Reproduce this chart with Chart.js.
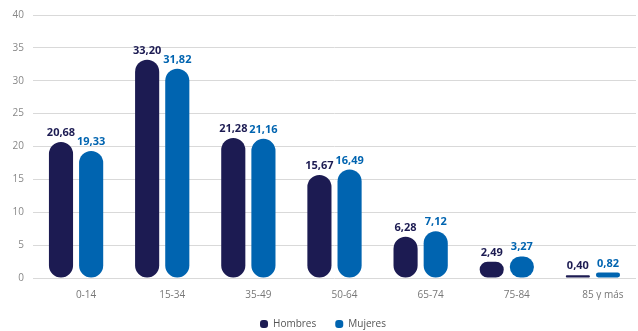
<!DOCTYPE html>
<html>
<head>
<meta charset="utf-8">
<script src="https://cdn.jsdelivr.net/npm/chart.js@4.4.0/dist/chart.umd.min.js"></script>
<style>
  html, body { margin: 0; padding: 0; background: #ffffff; }
  #wrap { width: 638px; height: 331px; }
</style>
</head>
<body>
<div id="wrap"><canvas id="chart" width="638" height="331"></canvas></div>
<script>
// Age groups and population share (%) by sex
const categories = ['0-14', '15-34', '35-49', '50-64', '65-74', '75-84', '85 y más'];
const hombres = [20.68, 33.20, 21.28, 15.67, 6.28, 2.49, 0.40];
const mujeres = [19.33, 31.82, 21.16, 16.49, 7.12, 3.27, 0.82];
const yTicks = [0, 5, 10, 15, 20, 25, 30, 35, 40];

const NAVY = '#1c1b52';
const BLUE = '#0064b0';
const FONT = '"Open Sans", "Noto Sans", sans-serif';

// Writes each bar's value above it, using a comma as decimal separator
const valueLabels = {
  id: 'valueLabels',
  afterDatasetsDraw(chart) {
    const ctx = chart.ctx;
    ctx.save();
    ctx.font = 'bold 11px ' + FONT;
    ctx.textAlign = 'center';
    ctx.textBaseline = 'alphabetic';
    chart.data.datasets.forEach((ds, i) => {
      const meta = chart.getDatasetMeta(i);
      ctx.fillStyle = ds.labelColor;
      meta.data.forEach((bar, j) => {
        const txt = ds.data[j].toFixed(2).replace('.', ',');
        ctx.fillText(txt, bar.x, bar.y - 6);
      });
    });
    ctx.restore();
  }
};

// Nudges the legend row a little to the right of the canvas centre
const legendShift = {
  id: 'legendShift',
  afterLayout(chart) {
    if (chart.legend) {
      chart.legend.left += 5;
      chart.legend.right += 5;
    }
  }
};

new Chart(document.getElementById('chart'), {
  type: 'bar',
  data: {
    labels: categories,
    datasets: [
      {
        label: 'Hombres',
        data: hombres,
        backgroundColor: NAVY,
        labelColor: NAVY,
        borderRadius: 12,
        borderSkipped: false,
        barPercentage: 0.8,
        categoryPercentage: 0.7
      },
      {
        label: 'Mujeres',
        data: mujeres,
        backgroundColor: BLUE,
        labelColor: BLUE,
        borderRadius: 12,
        borderSkipped: false,
        barPercentage: 0.8,
        categoryPercentage: 0.7
      }
    ]
  },
  options: {
    responsive: false,
    animation: false,
    layout: { padding: { top: 10, right: 2, bottom: -8, left: 0 } },
    plugins: {
      tooltip: { enabled: false },
      legend: {
        position: 'bottom',
        labels: {
          font: { family: FONT, size: 10 },
          color: '#555555',
          boxWidth: 8,
          boxHeight: 8,
          useBorderRadius: true,
          borderRadius: 3,
          padding: 19
        }
      }
    },
    scales: {
      x: {
        afterFit(scale) { scale.height = 22; },
        grid: { display: false, drawTicks: false },
        border: { display: false },
        ticks: {
          font: { family: FONT, size: 10 },
          color: '#777777',
          labelOffset: 10,
          padding: 11,
          maxRotation: 0
        }
      },
      y: {
        min: 0,
        max: 40,
        afterBuildTicks(scale) {
          scale.ticks = yTicks.map(v => ({ value: v }));
        },
        afterFit(scale) { scale.width = 33; },
        grid: { color: '#d9d9d9', drawTicks: false },
        border: { display: false },
        ticks: {
          font: { family: FONT, size: 10 },
          color: '#888888',
          padding: 9
        }
      }
    }
  },
  plugins: [valueLabels, legendShift]
});
</script>
</body>
</html>
